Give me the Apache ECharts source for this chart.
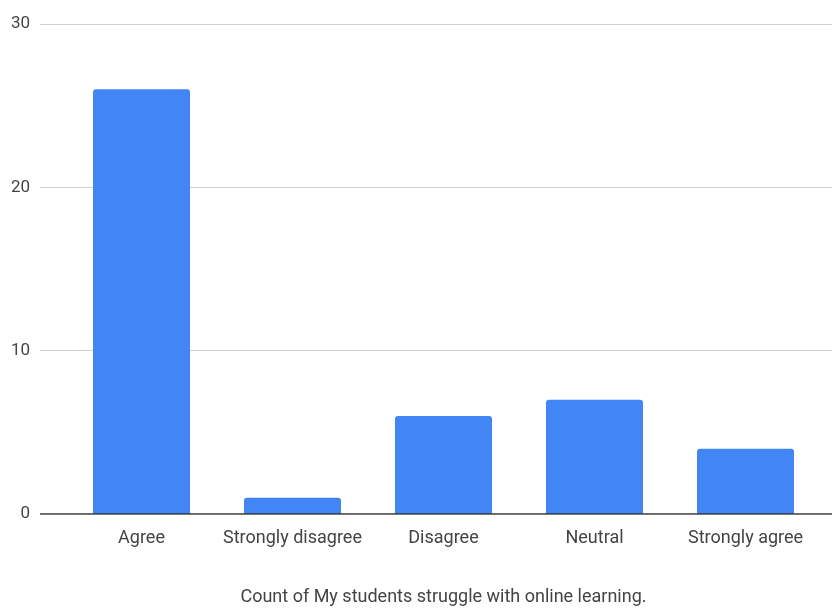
<!DOCTYPE html>
<html>
<head>
<meta charset="utf-8">
<script src="https://cdn.jsdelivr.net/npm/echarts@6/dist/echarts.min.js"></script>
<style>
  html, body { margin: 0; padding: 0; background: #fff; }
  #chart { width: 832px; height: 609px; }
</style>
</head>
<body>
<div id="chart"></div>
<script>
// Survey responses: "My students struggle with online learning."
const categories = ['Agree', 'Strongly disagree', 'Disagree', 'Neutral', 'Strongly agree'];
const counts = [26, 1, 6, 7, 4];
const yTicks = [0, 10, 20, 30];
const axisTitle = 'Count of My students struggle with online learning.';

const textColor = '#444';
const fontFamily = 'Roboto, Arial, sans-serif';

const chart = echarts.init(document.getElementById('chart'), null, { renderer: 'canvas' });

chart.setOption({
  animation: false,
  backgroundColor: '#fff',
  grid: [
    // frame grid: value axis labels, gridlines and baseline across full width
    { left: 40, right: 0, top: 24, bottom: 95, outerBoundsMode: 'none', containLabel: false },
    // bar grid: category bands
    { left: 66, right: 11, top: 24, bottom: 95, outerBoundsMode: 'none', containLabel: false }
  ],
  xAxis: [
    {
      gridIndex: 0, type: 'value', min: 0, max: 1,
      axisLine: { show: false }, axisTick: { show: false },
      axisLabel: { show: false }, splitLine: { show: false }
    },
    {
      gridIndex: 1, type: 'category', data: categories,
      axisLine: { show: false }, axisTick: { show: false },
      axisLabel: { color: textColor, fontSize: 18, fontFamily: fontFamily, margin: 15, interval: 0 },
      name: axisTitle, nameLocation: 'middle', nameGap: 74,
      nameTextStyle: { color: textColor, fontSize: 18, fontFamily: fontFamily }
    }
  ],
  yAxis: [
    {
      gridIndex: 0, type: 'value', min: yTicks[0], max: yTicks[yTicks.length - 1], interval: 10,
      axisLine: { show: false }, axisTick: { show: false },
      axisLabel: { color: textColor, fontSize: 17, fontFamily: fontFamily, margin: 10 },
      splitLine: { lineStyle: { color: '#d0d0d0', width: 1 } }
    },
    {
      gridIndex: 1, type: 'value', min: yTicks[0], max: yTicks[yTicks.length - 1], interval: 10,
      axisLine: { show: false }, axisTick: { show: false },
      axisLabel: { show: false }, splitLine: { show: false }
    }
  ],
  series: [
    {
      type: 'bar', xAxisIndex: 1, yAxisIndex: 1,
      data: counts, barWidth: 97,
      itemStyle: { color: '#4285f4', borderRadius: [3, 3, 0, 0] },
      z: 2
    },
    {
      // baseline at zero
      type: 'line', xAxisIndex: 0, yAxisIndex: 0,
      data: [[0, 0], [1, 0]], symbol: 'none', silent: true,
      lineStyle: { color: '#333', width: 1.5 }, z: 3
    }
  ]
});
</script>
</body>
</html>
